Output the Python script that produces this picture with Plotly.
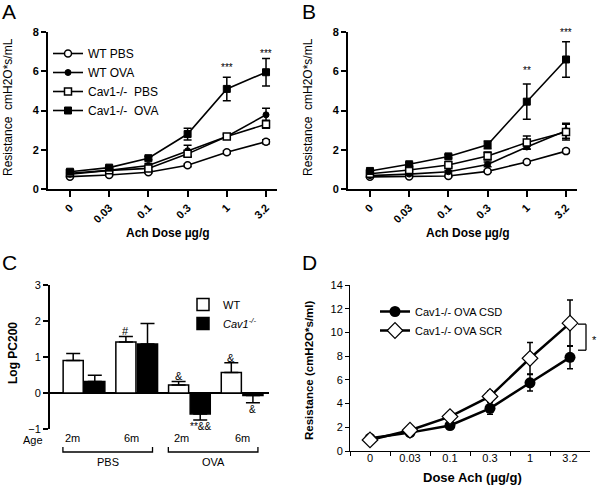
import plotly.graph_objects as go

FONT = "Liberation Sans, Arial, sans-serif"

doses = ["0", "0.03", "0.1", "0.3", "1", "3.2"]

# ---------- Panel A ----------
a_wt_pbs = [0.63, 0.71, 0.85, 1.21, 1.87, 2.41]
a_wt_pbs_err = [0.03, 0.04, 0.05, 0.07, 0.08, 0.10]
a_wt_ova = [0.75, 0.95, 1.20, 1.95, 2.68, 3.78]
a_wt_ova_err = [0.05, 0.08, 0.10, 0.28, 0.10, 0.33]
a_cav_pbs = [0.80, 0.95, 1.05, 1.79, 2.68, 3.30]
a_cav_pbs_err = [0.05, 0.07, 0.10, 0.15, 0.12, 0.20]
a_cav_ova = [0.88, 1.09, 1.57, 2.80, 5.10, 5.95]
a_cav_ova_err = [0.06, 0.08, 0.08, 0.30, 0.60, 0.70]
a_stars = {"1": ("***", 6.2), "3.2": ("***", 6.9)}

# ---------- Panel B ----------
b_wt_pbs = [0.62, 0.64, 0.66, 0.90, 1.38, 1.93]
b_wt_pbs_err = [0.03, 0.03, 0.04, 0.05, 0.06, 0.08]
b_wt_ova = [0.68, 0.76, 0.88, 1.25, 2.14, 2.97]
b_wt_ova_err = [0.04, 0.05, 0.06, 0.12, 0.12, 0.38]
b_cav_pbs = [0.78, 0.97, 1.22, 1.68, 2.37, 2.90]
b_cav_pbs_err = [0.04, 0.06, 0.08, 0.20, 0.33, 0.40]
b_cav_ova = [0.92, 1.26, 1.66, 2.25, 4.45, 6.60]
b_cav_ova_err = [0.06, 0.08, 0.08, 0.20, 0.90, 0.90]
b_stars = {"1": ("**", 6.05), "3.2": ("***", 7.95)}

series_names = ["WT PBS", "WT OVA", "Cav1-/-  PBS", "Cav1-/-  OVA"]

# ---------- Panel C ----------
c_groups = [0, 1, 2, 3]
c_ages = ["2m", "6m", "2m", "6m"]
c_wt = [0.90, 1.42, 0.22, 0.57]
c_wt_err = [0.20, 0.15, 0.10, 0.27]
c_cav = [0.32, 1.36, -0.58, -0.07]
c_cav_err = [0.17, 0.57, 0.17, 0.20]
c_wt_marks = ["", "#", "&", "&"]
c_cav_marks = ["", "", "**&&", "&"]

# ---------- Panel D ----------
d_csd = [1.07, 1.55, 2.15, 3.60, 5.75, 7.90]
d_csd_err = [0.08, 0.10, 0.15, 0.50, 0.70, 0.97]
d_scr = [0.93, 1.75, 2.90, 4.60, 7.82, 10.78]
d_scr_err = [0.08, 0.10, 0.15, 0.45, 1.33, 1.95]

fig = go.Figure()

styles = [
    dict(symbol="circle", size=7, color="white", line=dict(color="black", width=1.5)),
    dict(symbol="circle", size=6, color="black", line=dict(color="black", width=1)),
    dict(symbol="square", size=7, color="white", line=dict(color="black", width=1.5)),
    dict(symbol="square", size=7, color="black", line=dict(color="black", width=1)),
]

def add_panel(vals, errs, xa, ya, show):
    for name, v, e, st in zip(series_names, vals, errs, styles):
        fig.add_trace(go.Scatter(
            x=doses, y=v, name=name, mode="lines+markers",
            line=dict(color="black", width=1.6), marker=st,
            error_y=dict(type="data", array=e, color="black", thickness=1.5, width=4),
            xaxis=xa, yaxis=ya, showlegend=show, legend="legend"))

add_panel([a_wt_pbs, a_wt_ova, a_cav_pbs, a_cav_ova],
          [a_wt_pbs_err, a_wt_ova_err, a_cav_pbs_err, a_cav_ova_err], "x", "y", True)
add_panel([b_wt_pbs, b_wt_ova, b_cav_pbs, b_cav_ova],
          [b_wt_pbs_err, b_wt_ova_err, b_cav_pbs_err, b_cav_ova_err], "x2", "y2", False)

# Panel C bars
def up(v, e):
    return [ee if vv >= 0 else 0 for vv, ee in zip(v, e)]
def down(v, e):
    return [ee if vv < 0 else 0 for vv, ee in zip(v, e)]

fig.add_trace(go.Bar(x=c_groups, y=c_wt, name="WT",
                     marker=dict(color="white", line=dict(color="black", width=1.5)),
                     error_y=dict(type="data", symmetric=False, array=up(c_wt, c_wt_err),
                                  arrayminus=down(c_wt, c_wt_err), color="black",
                                  thickness=1.5, width=7),
                     xaxis="x3", yaxis="y3", legend="legend3"))
fig.add_trace(go.Bar(x=c_groups, y=c_cav, name="<i>Cav1<sup>-/-</sup></i>",
                     marker=dict(color="black", line=dict(color="black", width=1.5)),
                     error_y=dict(type="data", symmetric=False, array=up(c_cav, c_cav_err),
                                  arrayminus=down(c_cav, c_cav_err), color="black",
                                  thickness=1.5, width=7),
                     xaxis="x3", yaxis="y3", legend="legend3"))

# Panel D
fig.add_trace(go.Scatter(x=doses, y=d_csd, name="Cav1-/- OVA CSD", mode="lines+markers",
                         line=dict(color="black", width=2.5),
                         marker=dict(symbol="circle", size=11, color="black"),
                         error_y=dict(type="data", array=d_csd_err, color="black", thickness=1.5, width=3),
                         xaxis="x4", yaxis="y4", legend="legend2"))
fig.add_trace(go.Scatter(x=doses, y=d_scr, name="Cav1-/- OVA SCR", mode="lines+markers",
                         line=dict(color="black", width=2.5),
                         marker=dict(symbol="diamond", size=12, color="white",
                                     line=dict(color="black", width=1.2)),
                         error_y=dict(type="data", array=d_scr_err, color="black", thickness=1.5, width=3),
                         xaxis="x4", yaxis="y4", legend="legend2"))

W, H = 600, 490
def px(x):
    return x / W
def py(y):
    return 1 - y / H

def axis(**kw):
    d = dict(showline=True, linecolor="black", linewidth=2, ticks="outside",
             tickcolor="black", tickwidth=2, ticklen=5, showgrid=False,
             zeroline=False, color="black", automargin=False)
    d.update(kw)
    return d

bold11 = dict(family=FONT, size=11, color="black", weight="bold")
norm11 = dict(family=FONT, size=11, color="black")

ann = []
shapes = []

def text(t, x, y, xref="paper", yref="paper", size=11, bold=False, angle=0,
         xanchor="center", yanchor="middle"):
    f = dict(family=FONT, size=size, color="black")
    if bold:
        f["weight"] = "bold"
    ann.append(dict(text=t, x=x, y=y, xref=xref, yref=yref, showarrow=False,
                    textangle=angle, xanchor=xanchor, yanchor=yanchor, font=f))

# panel letters
for letter, x, y in [("A", 9, 12), ("B", 309, 12), ("C", 9, 262), ("D", 309, 262)]:
    text(letter, px(x), py(y), size=21)

# A/B titles
for x0 in (0, 300):
    text("Resistance  cmH2O*s/mL", px(x0 + 8), py(107), size=12, angle=-90)
    text("Ach Dose µg/g", px(x0 + 168), py(233), size=12, bold=True)

for stars, xa, ya in [(a_stars, "x", "y"), (b_stars, "x2", "y2")]:
    for k, (t, yv) in stars.items():
        text(t, doses.index(k), yv, xref=xa, yref=ya, size=10)

# C titles and marks
text("Log PC200", px(13), py(353), size=12, bold=True, angle=-90)
off = 0.205
for i, m in enumerate(c_wt_marks):
    if m:
        ann.append(dict(text=m, x=c_groups[i] - off, y=c_wt[i] + c_wt_err[i], xref="x3", yref="y3",
                        xanchor="center", yanchor="bottom", showarrow=False, yshift=-3,
                        font=dict(family=FONT, size=11, color="black")))
for i, m in enumerate(c_cav_marks):
    if m:
        ann.append(dict(text=m, x=c_groups[i] + off, y=c_cav[i] - c_cav_err[i], xref="x3", yref="y3",
                        xanchor="center", yanchor="top", showarrow=False, yshift=1,
                        font=dict(family=FONT, size=10, color="black")))
text("Age", px(33), py(440))
for g, age, dx in zip(c_groups, c_ages, [-0.21, -0.1, -0.15, 0.0]):
    text(age, g + dx, py(438), xref="x3")
for lab, g0, g1 in [("PBS", 0, 1), ("OVA", 2, 3)]:
    xl, xr = g0 - 0.40, g1 + 0.30
    shapes.append(dict(type="path", xref="x3", yref="paper",
                       path=f"M {xl},{py(447)} L {xl},{py(452)} L {xr},{py(452)} L {xr},{py(447)}",
                       line=dict(color="black", width=1.3)))
    text(lab, (xl + xr) / 2, py(462), xref="x3")

# D titles
text("Resistance (cmH2O*s/ml)", px(309), py(370), size=11.5, bold=True, angle=-90)
text("Dose Ach (µg/g)", px(472), py(477), size=13, bold=True)
shapes.append(dict(type="line", xref="x4", yref="y4", x0=5.2, x1=5.4, y0=10.7, y1=10.7, line=dict(color="black", width=1.3)))
shapes.append(dict(type="line", xref="x4", yref="y4", x0=5.4, x1=5.4, y0=10.7, y1=8.5, line=dict(color="black", width=1.3)))
shapes.append(dict(type="line", xref="x4", yref="y4", x0=5.2, x1=5.4, y0=8.5, y1=8.5, line=dict(color="black", width=1.3)))
text("*", px(594), py(340), size=11)

fig.update_layout(
    template="none",
    width=W, height=H, margin=dict(l=0, r=0, t=0, b=0, pad=0), autosize=False,
    paper_bgcolor="white", plot_bgcolor="white",
    font=dict(family=FONT, color="black"),
    barmode="group", bargap=0.18, bargroupgap=0.07,
    xaxis=axis(domain=[px(48), px(277)], type="category", range=[-0.56, 5.28], anchor="y",
               tickangle=-45, tickfont=bold11, ticklen=6),
    yaxis=axis(domain=[py(189), py(32)], range=[0, 8], dtick=2, anchor="x", tickfont=bold11),
    xaxis2=axis(domain=[px(348), px(577)], type="category", range=[-0.56, 5.28], anchor="y2",
                tickangle=-45, tickfont=bold11, ticklen=6),
    yaxis2=axis(domain=[py(189), py(32)], range=[0, 8], dtick=2, anchor="x2", tickfont=bold11),
    xaxis3=dict(domain=[px(50), px(269)], range=[-0.645, 3.51], anchor="y3", showline=False,
                showticklabels=False, ticks="", showgrid=False, zeroline=False, automargin=False),
    yaxis3=axis(domain=[py(429), py(285)], range=[-1, 3], dtick=1, anchor="x3", tickfont=norm11,
                zeroline=True, zerolinecolor="black", zerolinewidth=2),
    xaxis4=axis(domain=[px(350), px(590)], type="category", range=[-0.5, 5.5], anchor="y4",
                tickson="boundaries", linewidth=1, tickwidth=1, ticklen=4, tickfont=norm11,
                ticklabelstandoff=-3),
    yaxis4=axis(domain=[py(451), py(285)], range=[0, 14], dtick=2, anchor="x4",
                linewidth=1, tickwidth=1, ticklen=4, tickfont=norm11),
    legend=dict(x=px(48), y=py(39), xanchor="left", yanchor="top", bgcolor="rgba(0,0,0,0)",
                font=dict(family=FONT, size=12, color="black"), tracegroupgap=0),
    legend2=dict(x=px(375), y=py(297), xanchor="left", yanchor="top", bgcolor="rgba(0,0,0,0)",
                 font=dict(family=FONT, size=11, color="black")),
    legend3=dict(x=px(183), y=py(290), xanchor="left", yanchor="top", bgcolor="rgba(0,0,0,0)",
                 font=dict(family=FONT, size=11, color="black")),
    annotations=ann, shapes=shapes,
)

fig.write_html("out.html", config={"displayModeBar": False},
               post_script="document.body.style.margin='0';document.body.style.padding='0';"
                           "document.body.style.overflow='hidden';")
